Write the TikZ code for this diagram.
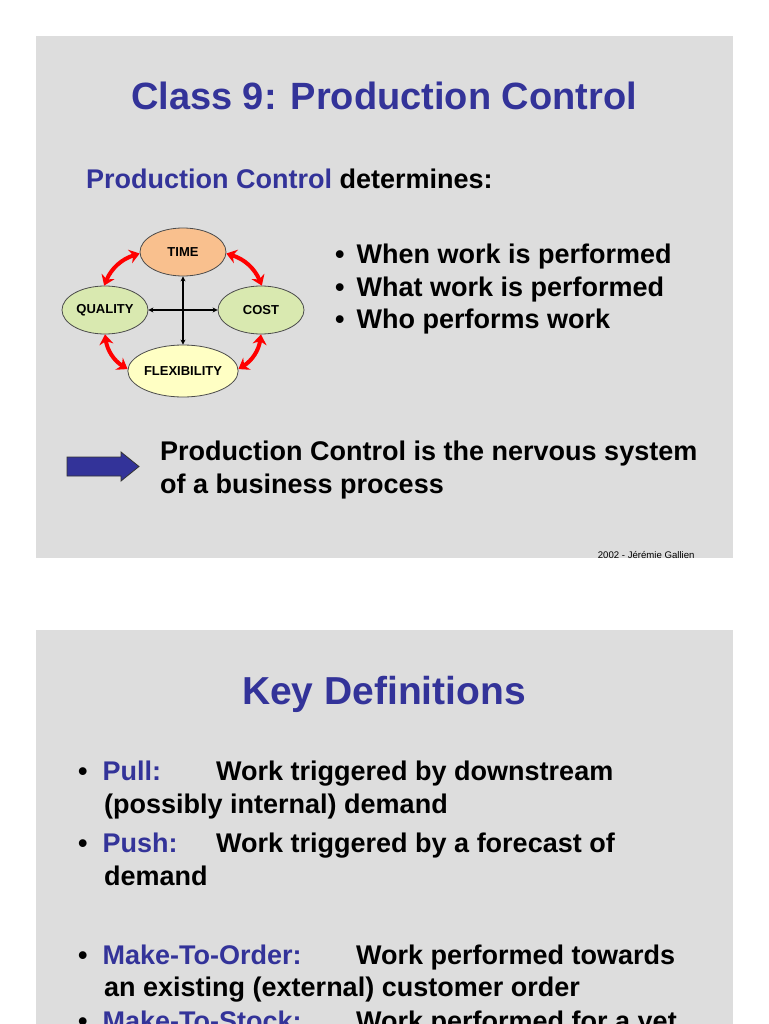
\documentclass[tikz,border=0pt]{standalone}
\usepackage{fontspec}
\setmainfont{Liberation Sans}
\usetikzlibrary{shapes.geometric,arrows.meta}
\definecolor{slidebg}{HTML}{DDDDDD}
\definecolor{navy}{RGB}{51,51,153}
\definecolor{timec}{HTML}{F9C08E}
\definecolor{greenc}{HTML}{D9E9B0}
\definecolor{yelc}{HTML}{FFFFC4}
\begin{document}
\begin{tikzpicture}[x=1pt,y=-1pt,
  slide/.style={fill=slidebg,draw=none},
  ell/.style={ellipse,draw=black!70,line width=0.8pt,minimum width=86pt,minimum height=48pt,inner sep=0pt,font=\fontsize{13}{15}\selectfont\bfseries},
  title/.style={anchor=base,text=navy,font=\fontsize{38}{44}\selectfont\bfseries},
  body/.style={anchor=base west,inner sep=0pt,font=\fontsize{27}{32}\selectfont\bfseries},
  red arr/.style={red,line width=4pt,{Stealth[length=10pt,width=14pt]}-{Stealth[length=10pt,width=14pt]}},
  blk arr/.style={black,line width=1.3pt,{Stealth[length=5pt,width=5pt]}-{Stealth[length=5pt,width=5pt]}}]
\useasboundingbox (0,0) rectangle (768,1024);
\clip (0,0) rectangle (768,1024);
\fill[slide] (36,36) rectangle (733,558);
\fill[slide] (36,630) rectangle (733,1030);
\node[title] (t1) at (384,110) {Class 9: Production Control};
\node[body] (pc) at (86,189) {\textcolor{navy}{Production Control} determines:};
% diagram
\node[ell,fill=timec] (time) at (183,252) {TIME};
\node[ell,fill=greenc] (qual) at (105,310) {QUALITY};
\node[ell,fill=greenc] (cost) at (261,310) {COST};
\node[ell,fill=yelc,minimum width=96pt,minimum height=52pt] (flex) at (183,371) {FLEXIBILITY};
\draw[blk arr] (time) -- (flex);
\draw[blk arr] (qual) -- (cost);
\draw[red arr] (time.182) to[bend right=25] (qual.92);
\draw[red arr] (time.-2) to[bend left=25] (cost.88);
\draw[red arr] (qual.-90) to[bend right=25] (flex.178);
\draw[red arr] (cost.-90) to[bend left=25] (flex.2);
% bullets
\node[body] (b1) at (335,263) {•\hspace{12pt}When work is performed};
\node[body] (b2) at (335,296) {•\hspace{12pt}What work is performed};
\node[body] (b3) at (335,328) {•\hspace{12pt}Who performs work};
% arrow
\draw[fill=navy,draw=black!80,line width=0.8pt] (67,457) -- (121,457) -- (121,452) -- (139,466.5) -- (121,481) -- (121,476) -- (67,476) -- cycle;
\node[body] (n1) at (160,460) {Production Control is the nervous system};
\node[body] (n2) at (160,493) {of a business process};
\node[anchor=base east,font=\fontsize{9.6}{11}\selectfont] (foot) at (698,558) {2002 - Jérémie Gallien};
% slide 2
\node[title,font=\fontsize{39}{44}\selectfont\bfseries] (t2) at (384,704) {Key Definitions};
\node[body] (p1) at (78,780) {•\hspace{15pt}\textcolor{navy}{Pull:}};
\node[body] at (216,780) {Work triggered by downstream};
\node[body] at (104,813) {(possibly internal) demand};
\node[body] (p2) at (78,852) {•\hspace{15pt}\textcolor{navy}{Push:}};
\node[body] at (216,852) {Work triggered by a forecast of};
\node[body] at (104,885) {demand};
\node[body] (p3) at (78,964) {•\hspace{15pt}\textcolor{navy}{Make-To-Order:}};
\node[body] at (356,964) {Work performed towards};
\node[body] at (104,996) {an existing (external) customer order};
\node[body] (p4) at (78,1030) {•\hspace{15pt}\textcolor{navy}{Make-To-Stock:}};
\node[body] at (356,1030) {Work performed for a yet};
\end{tikzpicture}
\end{document}
